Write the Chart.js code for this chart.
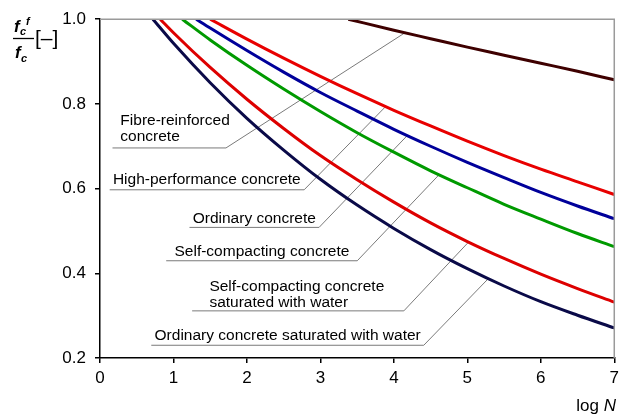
<!DOCTYPE html>
<html>
<head>
<meta charset="utf-8">
<script src="https://cdn.jsdelivr.net/npm/chart.js@4/dist/chart.umd.min.js"></script>
<style>
    html, body { margin: 0; padding: 0; background: #fff; }
</style>
</head>
<body>
<canvas id="fatigueChart" width="624" height="416"></canvas>
<script>
// log N positions and f_c^f / f_c values
const ordinarySatLogN = [0.72, 1, 1.5, 2, 2.5, 3, 3.5, 4, 4.5, 5, 5.5, 6, 6.5, 7];
const ordinarySatRatio = [1.0, 0.943, 0.850, 0.766, 0.691, 0.622, 0.561, 0.506, 0.456, 0.411, 0.370, 0.333, 0.301, 0.271];

const selfCompSatLogN = [0.82, 1, 1.5, 2, 2.5, 3, 3.5, 4, 4.5, 5, 5.5, 6, 6.5, 7];
const selfCompSatRatio = [1.0, 0.968, 0.886, 0.811, 0.742, 0.678, 0.621, 0.568, 0.519, 0.475, 0.435, 0.398, 0.364, 0.332];

const selfCompLogN = [1.12, 1.5, 2, 2.5, 3, 3.5, 4, 4.5, 5, 5.5, 6, 6.5, 7];
const selfCompRatio = [1.0, 0.951, 0.891, 0.835, 0.782, 0.732, 0.686, 0.642, 0.602, 0.563, 0.528, 0.494, 0.463];

const ordinaryLogN = [1.31, 1.5, 2, 2.5, 3, 3.5, 4, 4.5, 5, 5.5, 6, 6.5, 7];
const ordinaryRatio = [1.0, 0.979, 0.926, 0.875, 0.827, 0.783, 0.740, 0.700, 0.662, 0.626, 0.591, 0.559, 0.529];

const highPerfLogN = [1.5, 2, 2.5, 3, 3.5, 4, 4.5, 5, 5.5, 6, 6.5, 7];
const highPerfRatio = [1.0, 0.953, 0.908, 0.865, 0.824, 0.785, 0.748, 0.712, 0.678, 0.646, 0.616, 0.586];

const fibreLogN = [3.38, 4, 4.5, 5, 5.5, 6, 6.5, 7];
const fibreRatio = [1.0, 0.974, 0.954, 0.934, 0.915, 0.896, 0.877, 0.857];

const xTicks = [0, 1, 2, 3, 4, 5, 6, 7];
const yTicks = [0.2, 0.4, 0.6, 0.8, 1.0];

const FONT = "'Liberation Sans', Arial, sans-serif";

function toPoints(xs, ys) {
    return xs.map((x, i) => ({ x: x, y: ys[i] }));
}

function curve(xs, ys, color) {
    return {
        data: toPoints(xs, ys),
        borderColor: color,
        borderWidth: 3,
        pointRadius: 0,
        cubicInterpolationMode: "monotone",
        fill: false
    };
}

// callout labels: text, underline and leader tip, in data units
const callouts = [
    { lines: ["Fibre-reinforced", "concrete"], textX: 0.277, textY: 0.7496, lineX0: 0.17, lineX1: 1.715, lineY: 0.696, tipX: 4.16, tipY: 0.969 },
    { lines: ["High-performance concrete"], textX: 0.176, textY: 0.6104, lineX0: 0.132, lineX1: 2.779, lineY: 0.5972, tipX: 3.878, tipY: 0.792 },
    { lines: ["Ordinary concrete"], textX: 1.262, textY: 0.5177, lineX0: 1.218, lineX1: 2.982, lineY: 0.5084, tipX: 4.181, tipY: 0.725 },
    { lines: ["Self-compacting concrete"], textX: 1.014, textY: 0.440, lineX0: 0.901, lineX1: 3.502, lineY: 0.4296, tipX: 4.611, tipY: 0.632 },
    { lines: ["Self-compacting concrete", "saturated with water"], textX: 1.489, textY: 0.3588, lineX0: 1.254, lineX1: 4.136, lineY: 0.3113, tipX: 5.018, tipY: 0.474 },
    { lines: ["Ordinary concrete saturated with water"], textX: 0.7425, textY: 0.2429, lineX0: 0.698, lineX1: 4.407, lineY: 0.2301, tipX: 5.289, tipY: 0.388 }
];

const calloutPlugin = {
    id: "callouts",
    beforeDatasetsDraw(chart) {
        const { ctx, scales: { x, y } } = chart;
        ctx.save();
        ctx.strokeStyle = "#7a7a7a";
        ctx.lineWidth = 1;
        callouts.forEach(c => {
            ctx.beginPath();
            ctx.moveTo(x.getPixelForValue(c.lineX0), y.getPixelForValue(c.lineY));
            ctx.lineTo(x.getPixelForValue(c.lineX1), y.getPixelForValue(c.lineY));
            ctx.lineTo(x.getPixelForValue(c.tipX), y.getPixelForValue(c.tipY));
            ctx.stroke();
        });
        ctx.fillStyle = "#000";
        ctx.font = "15.5px " + FONT;
        ctx.textAlign = "left";
        ctx.textBaseline = "alphabetic";
        callouts.forEach(c => {
            const tx = x.getPixelForValue(c.textX);
            const ty = y.getPixelForValue(c.textY);
            c.lines.forEach((line, i) => ctx.fillText(line, tx, ty + i * 16));
        });
        ctx.restore();
    },
    afterDraw(chart) {
        const { ctx, chartArea } = chart;
        ctx.save();
        // grey frame on top and right
        ctx.strokeStyle = "#9a9a9a";
        ctx.lineWidth = 1.5;
        ctx.beginPath();
        ctx.moveTo(chartArea.left, chartArea.top);
        ctx.lineTo(chartArea.right, chartArea.top);
        ctx.lineTo(chartArea.right, chartArea.bottom);
        ctx.stroke();

        // y axis title: f_c^f / f_c [–]
        ctx.fillStyle = "#000";
        ctx.textBaseline = "alphabetic";
        ctx.textAlign = "left";
        ctx.font = "italic bold 17px " + FONT;
        ctx.fillText("f", 14, 32);
        ctx.fillText("f", 15, 58);
        ctx.font = "italic bold 11px " + FONT;
        ctx.fillText("f", 26, 25);
        ctx.fillText("c", 20, 35);
        ctx.fillText("c", 21, 62);
        ctx.strokeStyle = "#000";
        ctx.lineWidth = 1.3;
        ctx.beginPath();
        ctx.moveTo(13, 38.5);
        ctx.lineTo(34, 38.5);
        ctx.stroke();
        ctx.font = "21px " + FONT;
        ctx.fillText("[\u2013]", 35, 45);

        // x axis title: log N
        ctx.textAlign = "right";
        ctx.font = "italic 17px " + FONT;
        ctx.fillText("N", 616, 411);
        const nWidth = ctx.measureText("N").width;
        ctx.font = "17px " + FONT;
        ctx.fillText("log ", 616 - nWidth, 411);
        ctx.restore();
    }
};

const chartCanvas = document.getElementById("fatigueChart");

const fatigueChart = new Chart(chartCanvas, {
    type: "line",
    data: {
        datasets: [
            curve(fibreLogN, fibreRatio, "#3e0000"),
            curve(highPerfLogN, highPerfRatio, "#e80000"),
            curve(ordinaryLogN, ordinaryRatio, "#00009a"),
            curve(selfCompLogN, selfCompRatio, "#009a00"),
            curve(selfCompSatLogN, selfCompSatRatio, "#dd0000"),
            curve(ordinarySatLogN, ordinarySatRatio, "#0a0a48")
        ]
    },
    options: {
        responsive: false,
        animation: false,
        layout: {
            padding: { top: 13, right: 8, left: 0, bottom: 0 }
        },
        plugins: {
            legend: { display: false },
            tooltip: { enabled: false }
        },
        scales: {
            x: {
                type: "linear",
                min: 0,
                max: 7,
                afterFit(scale) { scale.height = 58; },
                afterBuildTicks(scale) { scale.ticks = xTicks.map(v => ({ value: v })); },
                ticks: {
                    color: "#000",
                    font: { family: FONT, size: 17 },
                    padding: 5,
                    maxRotation: 0
                },
                grid: {
                    drawOnChartArea: false,
                    drawTicks: true,
                    tickLength: 5,
                    color: "#000",
                    lineWidth: 1.5
                },
                border: { color: "#000", width: 1.5 }
            },
            y: {
                min: 0.2,
                max: 1.0,
                afterFit(scale) { scale.width = 100; },
                afterBuildTicks(scale) { scale.ticks = yTicks.map(v => ({ value: v })); },
                ticks: {
                    color: "#000",
                    font: { family: FONT, size: 17 },
                    padding: 9,
                    callback(value) {
                        return value.toFixed(1);
                    }
                },
                grid: {
                    drawOnChartArea: false,
                    drawTicks: true,
                    tickLength: 5,
                    color: "#000",
                    lineWidth: 1.5
                },
                border: { color: "#000", width: 1.5 }
            }
        }
    },
    plugins: [calloutPlugin]
});
</script>
</body>
</html>
